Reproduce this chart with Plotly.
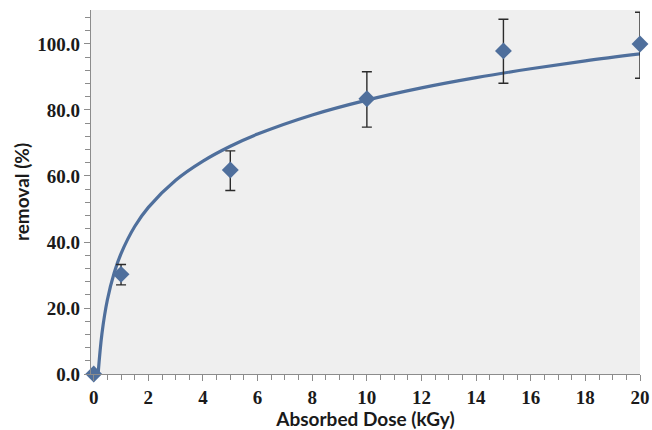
import plotly.graph_objects as go

# measured data points
dose = [0, 1, 5, 10, 15, 20]
removal = [0.0, 30.2, 61.8, 83.4, 97.9, 100.0]
err_plus = [0.0, 3.0, 5.8, 8.2, 9.6, 9.6]
err_minus = [0.0, 3.2, 6.2, 8.6, 9.8, 10.4]

# fitted trend curve
curve_x = [0.16, 0.3, 0.5, 0.75, 1, 1.5, 2, 3, 4, 5, 6, 8, 10, 12, 14, 16, 18, 20]
curve_y = [0.0, 12.2, 22.5, 30.7, 36.5, 44.7, 50.5, 58.7, 64.5, 69.0, 72.7, 78.5,
           83.0, 86.7, 89.8, 92.5, 94.9, 97.0]

x_ticks = [0, 2, 4, 6, 8, 10, 12, 14, 16, 18, 20]
y_ticks = [0, 20, 40, 60, 80, 100]

blue = "#4f6f9c"
axis_col = "#8c8c8c"
tick_font = dict(family="Liberation Serif", size=19, color="#1a1a1a", weight="bold")
title_font = dict(family="Lato", size=19, color="#1a1a1a")

fig = go.Figure()
fig.add_trace(go.Scatter(
    x=curve_x, y=curve_y, mode="lines", line=dict(color=blue, width=3.2, shape="spline"),
    hoverinfo="skip", showlegend=False, cliponaxis=False))
fig.add_trace(go.Scatter(
    x=dose, y=removal, mode="markers",
    marker=dict(symbol="diamond", size=13, color=blue),
    error_y=dict(type="data", symmetric=False, array=err_plus, arrayminus=err_minus,
                 color="#2b2b2b", thickness=1.4, width=5),
    showlegend=False, cliponaxis=False))

fig.update_layout(
    width=652, height=430,
    margin=dict(l=91, r=12, t=10, b=56, autoexpand=False),
    paper_bgcolor="white", plot_bgcolor="#efefef",
    xaxis=dict(
        range=[-0.1, 20], tickvals=x_ticks, ticktext=[str(v) for v in x_ticks],
        automargin=False, ticklabeloverflow="allow",
        showgrid=False, zeroline=False, showline=True, linecolor=axis_col, linewidth=1.2,
        ticks="outside", ticklen=6, tickcolor=axis_col, tickwidth=1.2, tickfont=tick_font,
        minor=dict(dtick=0.5, tick0=0, ticks="outside", ticklen=5, tickcolor=axis_col, showgrid=False),
        title=dict(text="<b>Absorbed Dose (kGy)</b>", font=title_font, standoff=3),
    ),
    yaxis=dict(
        range=[0, 110.3], tickvals=y_ticks, ticktext=[f"{v:.1f}" for v in y_ticks],
        automargin=False, ticklabeloverflow="allow",
        showgrid=False, zeroline=False, showline=True, linecolor=axis_col, linewidth=1.2,
        ticks="outside", ticklen=6, tickcolor=axis_col, tickwidth=1.2, tickfont=tick_font,
        minor=dict(dtick=4, tick0=0, ticks="outside", ticklen=5, tickcolor=axis_col, showgrid=False),
        title=dict(text="<b>removal (%)</b>", font=title_font, standoff=2),
    ),
)

fig.write_html(
    "out.html",
    config={"displayModeBar": False},
    post_script="document.body.style.margin='0';document.body.style.overflow='hidden';",
)
